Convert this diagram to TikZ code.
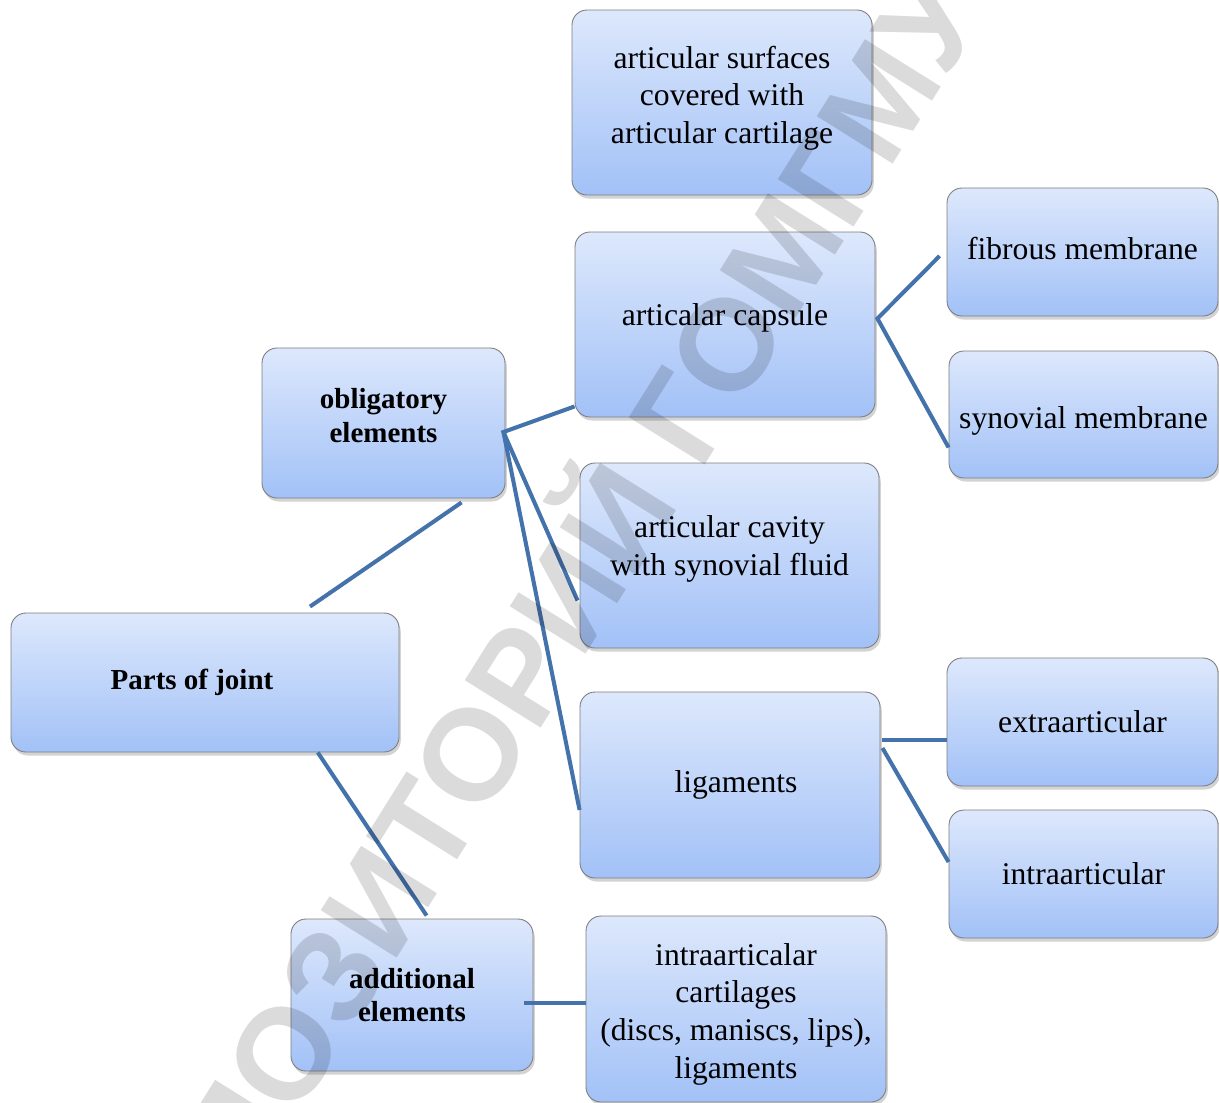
\documentclass[tikz,border=0pt]{standalone}
\usepackage{fontspec}
\setmainfont{Liberation Serif}
\newfontfamily\wmfont{Liberation Sans}
\usetikzlibrary{calc,shadows}
\definecolor{boxtop}{RGB}{221,232,252}
\definecolor{boxbot}{RGB}{162,193,247}
\definecolor{boxline}{RGB}{125,125,125}
\definecolor{linkblue}{RGB}{68,114,170}

\begin{document}
\begin{tikzpicture}[x=0.02cm,y=-0.02cm,
        part/.style 2 args={draw=boxline,line width=0.5pt,rounded corners=0.3cm,
            top color=boxtop,bottom color=boxbot,
            drop shadow={shadow xshift=1pt,shadow yshift=-2pt,opacity=0.35},
            align=center,inner sep=2pt,
            minimum width=#1*0.02cm,minimum height=#2*0.02cm,
            font=\fontsize{18}{21.5}\selectfont},
        head/.style 2 args={part={#1}{#2},font=\fontsize{16.5}{19}\selectfont\bfseries},
        link/.style={draw=linkblue,line width=2.3pt}]
    \useasboundingbox (0,0) rectangle (1219,1102);

    \node[head={388}{139}] (parts) at (205,682.5) {Parts of joint\hspace*{0.52cm}};
    \node[head={243}{150},text depth=8.4pt] (obl) at (383.5,423) {obligatory\\elements};
    \node[head={242}{152}] (add) at (412,995) {additional\\elements};

    \node[part={300}{185},text depth=8.7pt] (surf) at (722,102.5) {articular surfaces\\covered with\\articular cartilage};
    \node[part={300}{185},text depth=11.7pt] (caps) at (725,324.5) {articalar capsule};
    \node[part={299}{185},text depth=11.7pt] (cavity) at (729.5,555.5) {articular cavity\\with synovial fluid};
    \node[part={300}{186}] (lig) at (730,785) {\hspace*{0.24cm}ligaments};
    \node[part={300}{186},text height=83pt] (cart) at (736,1009) {intraarticalar\\cartilages\\(discs, maniscs, lips),\\ligaments};

    \node[part={271}{128},text depth=4.2pt] (fib) at (1082.5,252) {fibrous membrane};
    \node[part={269}{127},text height=20.1pt] (syn) at (1083.5,414.5) {synovial membrane};
    \node[part={271}{128}] (extra) at (1082.5,722) {extraarticular};
    \node[part={269}{128}] (intra) at (1083.5,874) {intraarticular};

    \coordinate (oblhub) at ($(obl.east)+(-2,9)$);
    \coordinate (capshub) at ($(caps.east)+(2,-6)$);
    \draw[link] ($(parts.north west)!0.77!(parts.north east)+(0,-6)$) -- ($(obl.south west)!0.82!(obl.south east)+(0,4)$);
    \draw[link] ($(parts.south west)!0.79!(parts.south east)$) -- ($(add.north west)!0.56!(add.north east)+(0,-3)$);
    \draw[link] ($(caps.south west)+(0,-11)$) -- (oblhub) -- ($(cavity.west)+(-2,45)$);
    \draw[link] (oblhub) -- ($(lig.west)+(0,25)$);
    \draw[link] ($(fib.west)+(-7,4)$) -- (capshub) -- ($(syn.west)+(0,33)$);
    \draw[link] ($(lig.east)+(2,-45)$) -- ($(extra.west)+(0,18)$);
    \draw[link] ($(lig.east)+(2,-37)$) -- ($(intra.west)+(0,-12)$);
    \draw[link] ($(add.east)+(-9,8)$) -- ($(cart.west)+(0,-6)$);

    \node[rotate=58,opacity=0.14,font=\wmfont\bfseries\fontsize{74}{74}\selectfont] (mark) at (522,648) {РЕПОЗИТОРИЙ ГОМГМУ};
\end{tikzpicture}
\end{document}
